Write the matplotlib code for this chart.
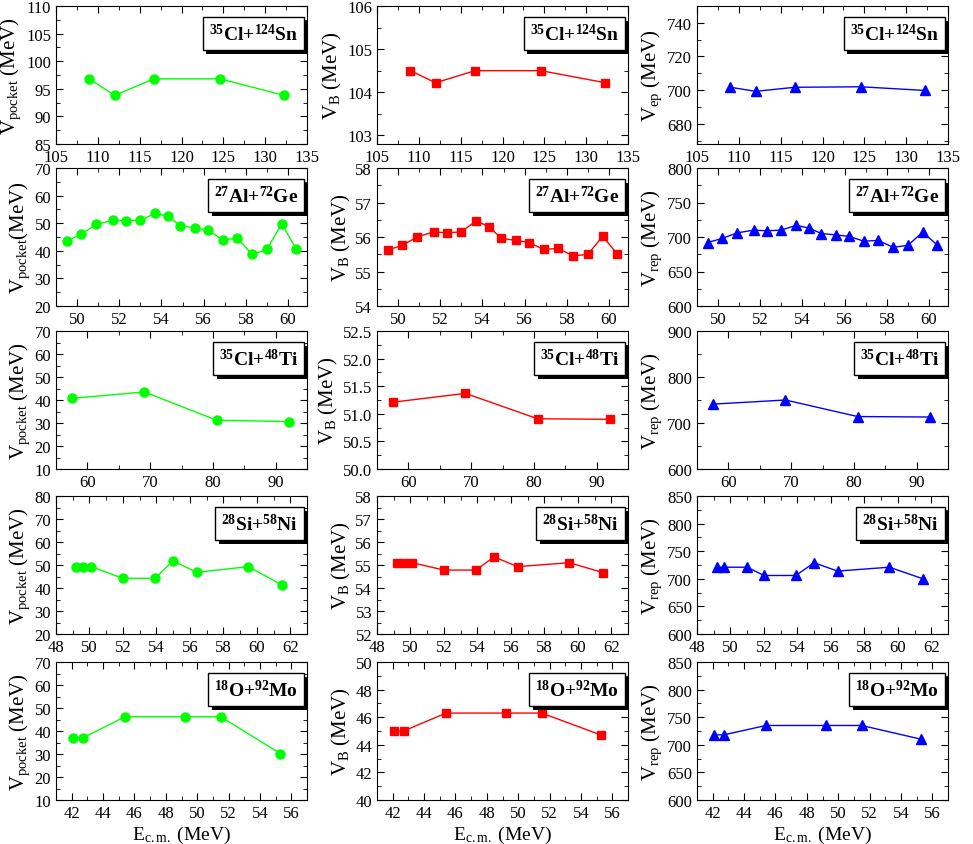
import matplotlib
matplotlib.use("Agg")
import matplotlib.pyplot as plt
import matplotlib.patheffects as pe
from matplotlib.ticker import MultipleLocator, FormatStrFormatter

plt.rcParams['font.family'] = ['Liberation Serif', 'DejaVu Serif']
plt.rcParams['mathtext.fontset'] = 'custom'
plt.rcParams['mathtext.rm'] = 'Liberation Serif'
plt.rcParams['mathtext.it'] = 'Liberation Serif:italic'
plt.rcParams['mathtext.bf'] = 'Liberation Serif:bold'

# 35Cl + 124Sn
x_clsn = [109.0, 112.0, 116.7, 124.6, 132.3]
vpocket_clsn = [96.8, 93.8, 96.8, 96.8, 93.8]
vb_clsn = [104.5, 104.22, 104.5, 104.5, 104.22]
vrep_clsn = [701.7, 699.3, 701.7, 702.0, 699.8]

# 27Al + 72Ge
x_alge = [49.5, 50.2, 50.9, 51.7, 52.3, 53.0, 53.7, 54.3, 54.9, 55.6, 56.2,
          56.9, 57.6, 58.3, 59.0, 59.7, 60.4]
vpocket_alge = [43.5, 46.0, 49.6, 51.0, 50.9, 51.0, 53.6, 52.5, 49.1, 48.3, 47.5,
                44.0, 44.5, 38.7, 40.5, 49.8, 40.5]
vb_alge = [55.62, 55.76, 56.0, 56.15, 56.12, 56.15, 56.47, 56.3, 55.96, 55.9, 55.84,
           55.64, 55.67, 55.45, 55.5, 56.02, 55.5]
vrep_alge = [692, 698, 706, 710, 709, 710, 717, 713, 705, 703, 701,
             694, 695, 685, 688, 707, 688]

# 35Cl + 48Ti
x_clti = [57.5, 69.1, 80.6, 92.2]
vpocket_clti = [40.7, 43.5, 31.2, 30.6]
vb_clti = [51.21, 51.37, 50.91, 50.90]
vrep_clti = [741, 750, 714, 713]

# 28Si + 58Ni
x_sini = [49.2, 49.6, 50.1, 52.0, 53.9, 55.0, 56.4, 59.5, 61.5]
x_sini_rep = [49.2, 49.6, 51.0, 52.0, 53.9, 55.0, 56.4, 59.5, 61.5]
vpocket_sini = [49.3, 49.3, 49.3, 44.2, 44.2, 51.8, 46.8, 49.3, 41.3]
vb_sini = [55.1, 55.1, 55.1, 54.78, 54.78, 55.35, 54.93, 55.1, 54.67]
vrep_sini = [721, 721, 721, 706, 706, 729, 714, 721, 700]

# 18O + 92Mo
x_omo = [42.1, 42.7, 45.4, 49.2, 51.5, 55.3]
vpocket_omo = [37.0, 37.0, 46.2, 46.2, 46.2, 30.2]
vb_omo = [45.0, 45.0, 46.3, 46.3, 46.3, 44.7]
vrep_omo = [718, 718, 735, 735, 735, 710]

systems = [r'$\mathbf{^{35}}$Cl+$\mathbf{^{124}}$Sn',
           r'$\mathbf{^{27}}$Al+$\mathbf{^{72}}$Ge',
           r'$\mathbf{^{35}}$Cl+$\mathbf{^{48}}$Ti',
           r'$\mathbf{^{28}}$Si+$\mathbf{^{58}}$Ni',
           r'$\mathbf{^{18}}$O+$\mathbf{^{92}}$Mo']

xdata = [x_clsn, x_alge, x_clti, x_sini, x_omo]
xdata_rep = [x_clsn, x_alge, x_clti, x_sini_rep, x_omo]
pocket = [vpocket_clsn, vpocket_alge, vpocket_clti, vpocket_sini, vpocket_omo]
barrier = [vb_clsn, vb_alge, vb_clti, vb_sini, vb_omo]
repul = [vrep_clsn, vrep_alge, vrep_clti, vrep_sini, vrep_omo]

# per row: xlim, x major, x minor
xset = [((105, 135), 5, 2.5), ((49, 60.9), 2, 1), ((55, 95), 10, 5),
        ((48, 63), 2, 1), ((41, 57), 2, 1)]
# per row and column: ylim, major, minor
yset = [
    [((85, 110), 5, 2.5), ((102.8, 106), 1, 0.5), ((668, 750), 20, 10)],
    [((20, 70), 10, 5), ((54, 58), 1, 0.5), ((600, 800), 50, 25)],
    [((10, 70), 10, 5), ((50, 52.5), 0.5, 0.25), ((600, 900), 100, 50)],
    [((20, 80), 10, 5), ((52, 58), 1, 0.5), ((600, 850), 50, 25)],
    [((10, 70), 10, 5), ((40, 50), 2, 1), ((600, 850), 50, 25)],
]

W, H = 973, 845
fig = plt.figure(figsize=(W / 100, H / 100), dpi=100)
lefts = [56, 377, 697]
tops = [7, 169, 332, 497, 663]
aw, ah = 251, 138

colors = ['#00ff00', '#ff0000', '#0000ff']
markers = ['o', 's', '^']
msizes = [6.5, 6, 7]

for r in range(5):
    for c in range(3):
        ax = fig.add_axes([lefts[c] / W, 1 - (tops[r] + ah) / H, aw / W, ah / H])
        if c == 0:
            xs, ys = xdata[r], pocket[r]
            lab = r'V$_{\rm pocket}$ (MeV)' if r != 1 else r'V$_{\rm pocket}$(MeV)'
        elif c == 1:
            xs, ys = xdata[r], barrier[r]
            lab = r'V$_{\rm B}$ (MeV)'
        else:
            xs, ys = xdata_rep[r], repul[r]
            lab = r'V$_{\rm ep}$ (MeV)' if r == 0 else r'V$_{\rm rep}$ (MeV)'
        ax.plot(xs, ys, color=colors[c], marker=markers[c], ms=msizes[c], lw=1,
                mec=colors[c])
        (xl, xmaj, xmin) = xset[r]
        (yl, ymaj, ymin) = yset[r][c]
        ax.set_xlim(*xl)
        ax.set_ylim(*yl)
        ax.xaxis.set_major_locator(MultipleLocator(xmaj))
        ax.xaxis.set_minor_locator(MultipleLocator(xmin))
        ax.yaxis.set_major_locator(MultipleLocator(ymaj))
        ax.yaxis.set_minor_locator(MultipleLocator(ymin))
        if r == 2 and c == 1:
            ax.yaxis.set_major_formatter(FormatStrFormatter('%.1f'))
        ax.tick_params(which='both', direction='in', top=True, right=True,
                       labelsize=12)
        ax.tick_params(which='major', length=5)
        ax.tick_params(which='minor', length=3)
        ax.set_ylabel(lab, fontsize=15, labelpad=2)
        if r == 4:
            ax.set_xlabel(r'E$_{\rm c.m.}$ (MeV)', fontsize=14, labelpad=2)
        t = ax.text(0.965, 0.875, systems[r], transform=ax.transAxes,
                    ha='right', va='top', fontsize=14, fontweight='bold',
                    bbox=dict(boxstyle='square,pad=0.3', fc='white', ec='black', lw=1))
        t.get_bbox_patch().set_path_effects([
            pe.SimplePatchShadow(offset=(2.5, -2.5), shadow_rgbFace='black', alpha=1),
            pe.Normal()])

fig.savefig('out.png', dpi=100)
